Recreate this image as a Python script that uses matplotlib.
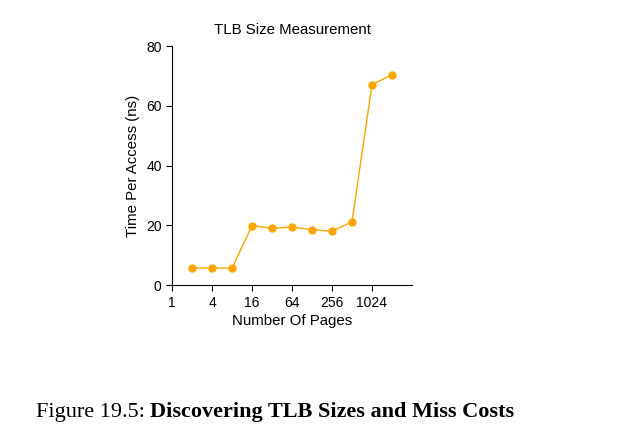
import matplotlib
matplotlib.use("Agg")
import matplotlib.pyplot as plt

pages = [2, 4, 8, 16, 32, 64, 128, 256, 512, 1024, 2048]
time_ns = [5.7, 5.7, 5.7, 19.9, 19.0, 19.4, 18.5, 18.0, 21.2, 67.0, 70.4]
xticks = [1, 4, 16, 64, 256, 1024]
yticks = [0, 20, 40, 60, 80]

plt.rcParams['font.family'] = ['Liberation Sans', 'DejaVu Sans']
fig = plt.figure(figsize=(6.28, 4.30), dpi=100)
ax = fig.add_axes([0.274, 0.337, 0.382, 0.556])
ax.plot(pages, time_ns, color='#FFA500', linewidth=1.0, marker='o', markersize=5)
ax.set_xscale('log', base=2)
ax.set_xlim(1, 4096)
ax.set_ylim(0, 80)
ax.set_xticks(xticks)
ax.set_xticklabels([str(t) for t in xticks])
ax.minorticks_off()
ax.set_yticks(yticks)
for s in ['top', 'right']:
    ax.spines[s].set_visible(False)
ax.spines['left'].set_bounds(0, 80)
ax.tick_params(labelsize=10, length=4, width=0.8)
ax.set_xlabel('Number Of Pages', fontsize=10.8, labelpad=3)
ax.set_ylabel('Time Per Access (ns)', fontsize=10.8, labelpad=4)
ax.set_title('TLB Size Measurement', fontsize=10.8, pad=9)

cap_y = 0.030
fig.text(0.057, cap_y, 'Figure 19.5: ', fontsize=16, family='Liberation Serif', va='baseline')
fig.canvas.draw()
t = fig.texts[0]
bb = t.get_window_extent()
x1 = bb.x1 / fig.bbox.width
fig.text(x1, cap_y, 'Discovering TLB Sizes and Miss Costs', fontsize=16,
         family='Liberation Serif', weight='bold', va='baseline')
fig.savefig('out.png', dpi=100)
